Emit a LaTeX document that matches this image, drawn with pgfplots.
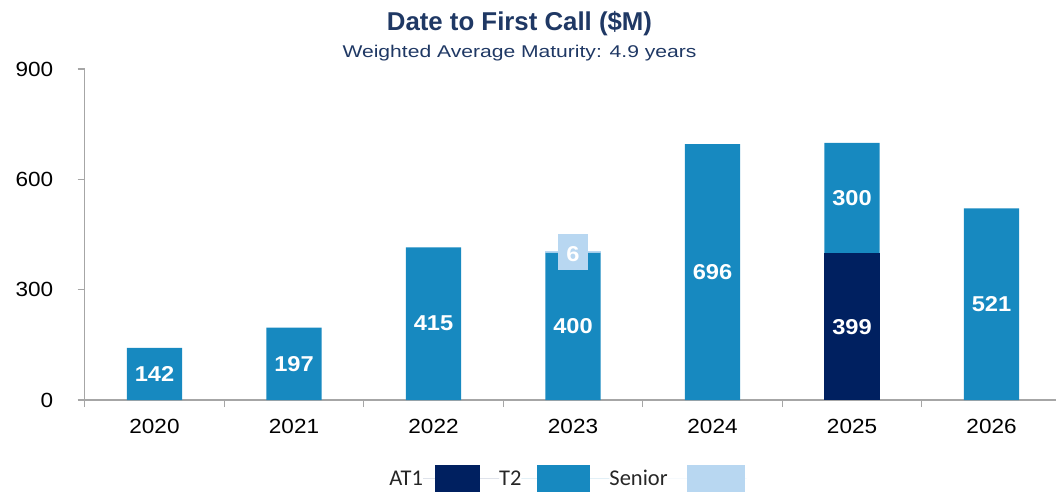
\documentclass[border=0pt]{standalone}
\usepackage{pgfplots}
\pgfplotsset{compat=1.18}
\usepackage{fontspec}
\setmainfont{Liberation Sans}
\newfontfamily\tickfont{Liberation Sans}[FakeStretch=1.1]
\newfontfamily\subfont{Liberation Sans}[FakeStretch=1.24]
\newfontfamily\legfont{Carlito}
\definecolor{navy}{HTML}{002060}
\definecolor{titlec}{HTML}{1F3864}
\definecolor{t2c}{HTML}{1789C0}
\definecolor{seniorc}{HTML}{B8D7F1}
\definecolor{axc}{HTML}{A6A6A6}
\definecolor{legtext}{HTML}{262626}
\begin{document}
\begin{tikzpicture}
\useasboundingbox (-84.75bp,-92bp) rectangle (971.25bp,400bp);
\begin{axis}[
  at={(0bp,0bp)}, anchor=south west,
  scale only axis, width=971.25bp, height=331bp,
  xmin=-0.5, xmax=6.462, ymin=0, ymax=900,
  enlargelimits=false, clip=false,
  axis x line*=bottom, axis y line*=left,
  axis line style={draw=axc, line width=1.2bp},
  tick style={draw=axc, line width=1.2bp},
  tick align=outside,
  major tick length=7bp,
  ytick={0,300,600,900},
  yticklabel style={xshift=-21bp},
  xtick={-0.5,0.5,1.5,2.5,3.5,4.5,5.5}, xticklabels={},
  extra x ticks={0,1,2,3,4,5,6},
  extra x tick labels={2020,2021,2022,2023,2024,2025,2026},
  extra x tick style={major tick length=0bp, xticklabel style={yshift=-15.5bp}},
  tick label style={font=\tickfont\fontsize{20.5bp}{24bp}\selectfont, text=black},
  /pgf/number format/assume math mode=true,
  ybar stacked, bar width=55.3bp,
  nodes near coords={\pgfmathfloatifflags{\pgfplotspointmeta}{0}{}{\pgfmathprintnumber{\pgfplotspointmeta}}},
  every node near coord/.append style={anchor=center, text=white, font=\tickfont\bfseries\fontsize{21.5bp}{24bp}\selectfont},
  legend plot pos=right,
  legend columns=-1,
  legend style={at={(0.4976,-0.2372)}, anchor=center, draw=none, fill=none,
    font=\legfont\fontsize{22.5bp}{26bp}\selectfont, text=legtext,
    inner sep=0pt, nodes={inner sep=0pt}, column sep=0pt},
]
\addplot[fill=navy, draw=none,
  legend image code/.code={\path (0bp,0bp) -- (76bp,0bp); \fill[navy] (12bp,-13.5bp) rectangle (57bp,13.5bp);}]
  table {
x y
0 0
1 0
2 0
3 0
4 0
5 399
6 0
};
\addlegendentry{AT1}
\addplot[fill=t2c, draw=none,
  legend image code/.code={\path (0bp,0bp) -- (88bp,0bp); \fill[t2c] (16bp,-13.5bp) rectangle (69bp,13.5bp);}]
  table {
x y
0 142
1 197
2 415
3 400
4 696
5 300
6 521
};
\addlegendentry{T2}
\addplot[fill=seniorc, draw=none,
  legend image code/.code={\path (0bp,0bp) -- (79bp,0bp); \fill[seniorc] (19bp,-13.5bp) rectangle (77bp,13.5bp);},
  nodes near coords={\pgfmathfloatifflags{\pgfplotspointmeta}{0}{}{\setlength{\fboxsep}{0pt}\colorbox{seniorc}{\makebox[30bp]{\rule[-8.7bp]{0pt}{36bp}\pgfmathprintnumber{\pgfplotspointmeta}}}}},
  every node near coord/.append style={inner sep=0pt}]
  table {
x y
0 0
1 0
2 0
3 6
4 0
5 0
6 0
};
\addlegendentry{Senior}
\end{axis}
\node[anchor=base, text=titlec, font=\bfseries\fontsize{25.8bp}{30bp}\selectfont] at (434.75bp,369bp) {Date to First Call (\$M)};
\node[anchor=base, text=titlec, font=\subfont\fontsize{17bp}{20bp}\selectfont] at (434.75bp,342.7bp) {Weighted Average Maturity: 4.9 years};
\end{tikzpicture}
\end{document}
